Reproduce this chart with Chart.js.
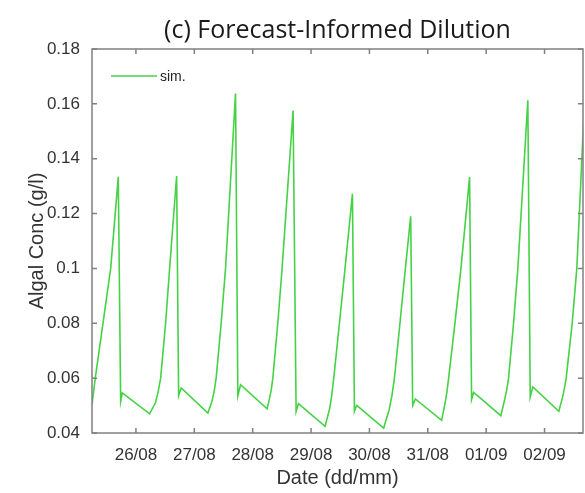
<!DOCTYPE html>
<html>
   <head>
      <meta charset="UTF-8">
      <title>Forecast-Informed Dilution</title>
      <script src="https://cdn.jsdelivr.net/npm/chart.js@4.4.1/dist/chart.umd.min.js"></script>
      <style>
         body{margin:0;background:#fff;}
         canvas{display:block;}
      </style>
   </head>
   <body>
      <canvas id="chart" width="585" height="493"></canvas>

      <script>
         // day of month (26 = 26/08, 32 = 01/09 ...)
         const simDays=[
            25.247,25.303,25.435,25.567,25.697,
            25.738,25.766,26.234,26.334,26.380,26.423,26.508,26.577,26.697,
            26.731,26.775,27.232,27.301,27.340,27.374,27.460,27.535,27.706,
            27.746,27.792,28.247,28.293,28.320,28.345,28.430,28.504,28.692,
            28.744,28.785,29.240,29.320,29.356,29.389,29.486,29.582,29.709,
            29.743,29.782,30.244,30.338,30.385,30.428,30.523,30.616,30.707,
            30.741,30.787,31.237,31.297,31.328,31.357,31.465,31.568,31.716,
            31.750,31.785,32.252,32.315,32.350,32.384,32.469,32.543,32.714,
            32.755,32.800,33.245,33.308,33.340,33.371,33.474,33.553,33.700
         ];
         const simConc=[
            0.0503,0.060,0.080,0.100,0.1334,
            0.0515,0.0546,0.0470,0.0510,0.0550,0.060,0.080,0.100,0.1337,
            0.0536,0.0564,0.0473,0.0515,0.0552,0.060,0.080,0.100,0.1638,
            0.0536,0.0576,0.0488,0.0530,0.0560,0.060,0.080,0.100,0.1576,
            0.0479,0.0507,0.0424,0.0490,0.0540,0.060,0.080,0.100,0.1272,
            0.0479,0.0501,0.0418,0.0485,0.0535,0.060,0.080,0.100,0.1190,
            0.0501,0.0524,0.0446,0.0510,0.0550,0.060,0.080,0.100,0.1333,
            0.0522,0.0548,0.0463,0.0520,0.0555,0.060,0.080,0.100,0.1613,
            0.0531,0.0568,0.0479,0.0530,0.0562,0.060,0.080,0.100,0.1680
         ];
         const tickDays=[26,27,28,29,30,31,32,33];
         const tickLabels=["26/08","27/08","28/08","29/08","30/08","31/08","01/09","02/09"];

         const axisGray="#808080";
         const textGray="#333";

         // MATLAB style box with inward ticks on all sides, plus the legend inside
         const axesBox={
            id:"axesBox",
            afterDraw(chart){
               const {ctx,chartArea:a,scales:{x,y}}=chart;
               ctx.save();
               ctx.strokeStyle=axisGray;
               ctx.lineWidth=1.5;
               ctx.strokeRect(a.left,a.top,a.right-a.left,a.bottom-a.top);
               ctx.beginPath();
               for(const t of x.ticks){
                  const px=x.getPixelForValue(t.value);
                  ctx.moveTo(px,a.bottom);ctx.lineTo(px,a.bottom-5);
                  ctx.moveTo(px,a.top);ctx.lineTo(px,a.top+5);
               }
               for(const t of y.ticks){
                  const py=y.getPixelForValue(t.value);
                  ctx.moveTo(a.left,py);ctx.lineTo(a.left+5,py);
                  ctx.moveTo(a.right,py);ctx.lineTo(a.right-5,py);
               }
               ctx.stroke();

               const ds=chart.data.datasets[0];
               const ly=a.top+27;
               ctx.strokeStyle=ds.borderColor;
               ctx.lineWidth=ds.borderWidth;
               ctx.beginPath();
               ctx.moveTo(a.left+19,ly);ctx.lineTo(a.left+65,ly);
               ctx.stroke();
               ctx.fillStyle="#222";
               ctx.font="14px 'Liberation Sans'";
               ctx.textBaseline="middle";
               ctx.fillText(ds.label,a.left+68,ly+1);
               ctx.restore();
            }
         };

         const tickFont={family:"Liberation Sans",size:17};
         const labelFont={family:"Liberation Sans",size:20};

         new Chart(document.getElementById("chart"),{
            type:"line",
            data:{
               datasets:[{
                  label:"sim.",
                  data:simDays.map((d,i)=>({x:d,y:simConc[i]})),
                  borderColor:"#46d246",
                  borderWidth:1.6,
                  pointRadius:0,
                  tension:0
               }]
            },
            options:{
               responsive:false,
               animation:false,
               layout:{padding:{left:0,right:2,top:0,bottom:0}},
               plugins:{
                  title:{
                     display:true,
                     fullSize:false,
                     text:"(c) Forecast-Informed Dilution",
                     font:{family:"Open Sans",size:25,weight:"normal",lineHeight:1.2},
                     color:"#1a1a1a",
                     padding:{top:16,bottom:3}
                  },
                  legend:{display:false},
                  tooltip:{enabled:false}
               },
               scales:{
                  x:{
                     type:"linear",
                     min:25.247,
                     max:33.659,
                     afterBuildTicks:s=>{s.ticks=tickDays.map(v=>({value:v}));},
                     afterFit:s=>{s.height=60;},
                     ticks:{
                        callback:v=>tickLabels[tickDays.indexOf(v)],
                        autoSkip:false,
                        maxRotation:0,
                        padding:12,
                        font:tickFont,
                        color:textGray
                     },
                     grid:{display:false,drawTicks:false},
                     border:{display:false},
                     title:{display:true,text:"Date (dd/mm)",font:labelFont,color:textGray,padding:{top:0,bottom:3}}
                  },
                  y:{
                     min:0.04,
                     max:0.18,
                     afterFit:s=>{s.width=92;},
                     ticks:{
                        stepSize:0.02,
                        callback:v=>String(Math.round(v*100)/100),
                        padding:12,
                        font:tickFont,
                        color:textGray
                     },
                     grid:{display:false,drawTicks:false},
                     border:{display:false},
                     title:{display:true,text:"Algal Conc (g/l)",font:labelFont,color:textGray,padding:{top:25,bottom:0}}
                  }
               }
            },
            plugins:[axesBox]
         });
      </script>
   </body>
</html>
